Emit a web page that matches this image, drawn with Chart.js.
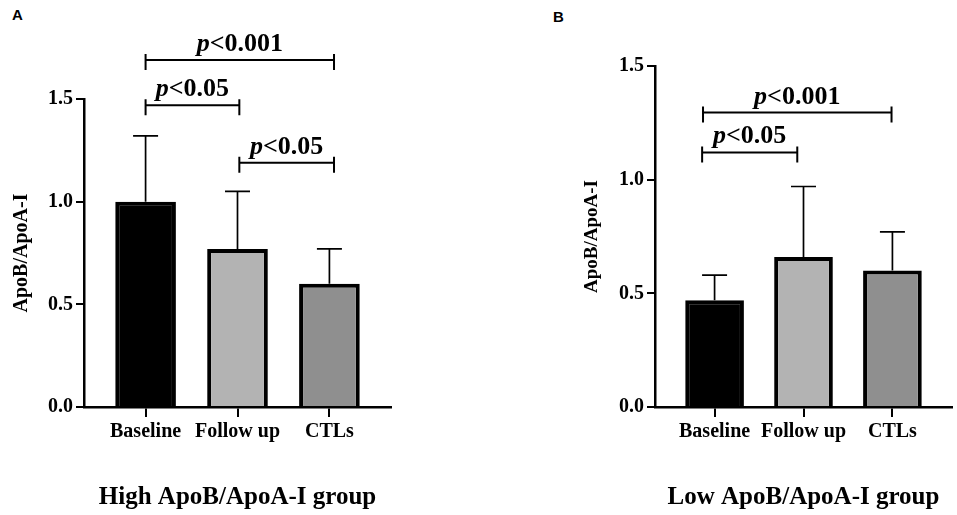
<!DOCTYPE html>
<html>
<head>
<meta charset="utf-8">
<title>ApoB/ApoA-I groups</title>
<script src="https://cdn.jsdelivr.net/npm/chart.js@4.4.0/dist/chart.umd.min.js"></script>
<style>
  body { margin: 0; background: #fff; }
  #wrap { position: relative; width: 957px; height: 515px; }
  .panel { position: absolute; top: 0; }
  .tag { position: absolute; font: bold 15px "Liberation Sans", Arial, sans-serif; color: #000; }
</style>
</head>
<body>
<div id="wrap">
  <div class="tag" style="left:12px; top:6px">A</div>
  <div class="tag" style="left:553px; top:8px">B</div>
  <canvas id="chartA" class="panel" style="left:0" width="430" height="515"></canvas>
  <canvas id="chartB" class="panel" style="left:520px" width="437" height="515"></canvas>
</div>

<script>
// ---------------- data ----------------
const categories = ['Baseline', 'Follow up', 'CTLs'];
const yTicks = [0, 0.5, 1.0, 1.5];

const meanHigh = [1.00, 0.77, 0.60];
const sdHigh = [0.32, 0.28, 0.17];
const meanLow = [0.47, 0.66, 0.60];
const sdLow = [0.11, 0.31, 0.17];

// significance brackets (x in category units, level in y units)
const sigTextHigh = ['<0.001', '<0.05', '<0.05'];
const sigLevelHigh = [1.69, 1.47, 1.19];
const sigFromHigh = [0, 0, 1.02];
const sigToHigh = [2.05, 1.02, 2.05];

const sigTextLow = ['<0.001', '<0.05'];
const sigLevelLow = [1.295, 1.12];
const sigFromLow = [-0.13, -0.14];
const sigToLow = [1.99, 0.93];

const barColors = ['#000000', '#b3b3b3', '#8f8f8f'];
const serif = '"Liberation Serif", "Times New Roman", serif';

// error bars (upper only) + brackets
function makeExtras(mean, sd, text, level, from, to) {
    return {
        id: 'extras',
        afterDatasetsDraw(chart) {
            const ctx = chart.ctx, x = chart.scales.x, y = chart.scales.y;
            ctx.save();
            ctx.strokeStyle = '#000';
            ctx.fillStyle = '#000';

            ctx.lineWidth = 1.7;
            mean.forEach(function(m, i) {
                const px = x.getPixelForValue(i);
                const y0 = y.getPixelForValue(m);
                const y1 = y.getPixelForValue(m + sd[i]);
                ctx.beginPath();
                ctx.moveTo(px, y0); ctx.lineTo(px, y1);
                ctx.moveTo(px - 12.5, y1); ctx.lineTo(px + 12.5, y1);
                ctx.stroke();
            });

            ctx.lineWidth = 2;
            ctx.textBaseline = 'alphabetic';
            text.forEach(function(t, i) {
                const x0 = x.getPixelForValue(from[i]);
                const x1 = x.getPixelForValue(to[i]);
                const py = y.getPixelForValue(level[i]);
                ctx.beginPath();
                ctx.moveTo(x0, py); ctx.lineTo(x1, py);
                ctx.moveTo(x0, py - 6); ctx.lineTo(x0, py + 10);
                ctx.moveTo(x1, py - 6); ctx.lineTo(x1, py + 10);
                ctx.stroke();

                ctx.font = 'italic bold 26px ' + serif;
                const wp = ctx.measureText('p').width;
                ctx.font = 'bold 26px ' + serif;
                const wt = ctx.measureText(t).width;
                const sx = (x0 + x1) / 2 - (wp + wt) / 2;
                ctx.font = 'italic bold 26px ' + serif;
                ctx.fillText('p', sx, py - 9);
                ctx.font = 'bold 26px ' + serif;
                ctx.fillText(t, sx + wp, py - 9);
            });
            ctx.restore();
        }
    };
}

function makeChart(id, mean, pad, groupTitle, yTitleSize, yTitlePad, extras) {
    return new Chart(document.getElementById(id), {
        type: 'bar',
        data: {
            datasets: [{
                data: categories.map(function(c, i) { return { x: i, y: mean[i] }; }),
                backgroundColor: barColors,
                borderColor: '#000',
                borderWidth: 4,
                barPercentage: 0.66,
                categoryPercentage: 1
            }]
        },
        options: {
            responsive: false,
            animation: false,
            layout: { padding: pad },
            plugins: {
                legend: { display: false },
                tooltip: { enabled: false }
            },
            scales: {
                x: {
                    type: 'linear',
                    min: -0.67,
                    max: 2.67,
                    offset: false,
                    afterBuildTicks: function(s) { s.ticks = categories.map(function(c, i) { return { value: i }; }); },
                    afterFit: function(s) { s.height = 108; },
                    ticks: {
                        callback: function(v) { return categories[v]; },
                        color: '#000',
                        font: { family: serif, size: 20, weight: 'bold' },
                        padding: 3,
                        maxRotation: 0,
                        autoSkip: false
                    },
                    grid: { drawOnChartArea: false, offset: false, color: '#000', lineWidth: 2, tickLength: 10 },
                    border: { color: '#000', width: 2.5 },
                    title: {
                        display: true,
                        text: groupTitle,
                        color: '#000',
                        font: { family: serif, size: 25, weight: 'bold' },
                        padding: { top: 0, bottom: 2 }
                    }
                },
                y: {
                    min: 0,
                    max: 1.5,
                    afterBuildTicks: function(s) { s.ticks = yTicks.map(function(v) { return { value: v }; }); },
                    afterFit: function(s) { s.width = 84; },
                    ticks: {
                        callback: function(v) { return v.toFixed(1); },
                        color: '#000',
                        font: { family: serif, size: 20, weight: 'bold' },
                        padding: 3
                    },
                    grid: { drawOnChartArea: false, color: '#000', lineWidth: 2, tickLength: 8 },
                    border: { color: '#000', width: 2.5 },
                    title: {
                        display: true,
                        text: 'ApoB/ApoA-I',
                        color: '#000',
                        font: { family: serif, size: yTitleSize, weight: 'bold' },
                        padding: { top: yTitlePad, bottom: 0 }
                    }
                }
            }
        },
        plugins: [extras]
    });
}

makeChart('chartA', meanHigh, { left: 0, top: 99, right: 39, bottom: 0 },
    'High ApoB/ApoA-I group', 20, 10,
    makeExtras(meanHigh, sdHigh, sigTextHigh, sigLevelHigh, sigFromHigh, sigToHigh));

makeChart('chartB', meanLow, { left: 51, top: 66, right: 5, bottom: 0 },
    'Low ApoB/ApoA-I group', 19, 10,
    makeExtras(meanLow, sdLow, sigTextLow, sigLevelLow, sigFromLow, sigToLow));
</script>
</body>
</html>
